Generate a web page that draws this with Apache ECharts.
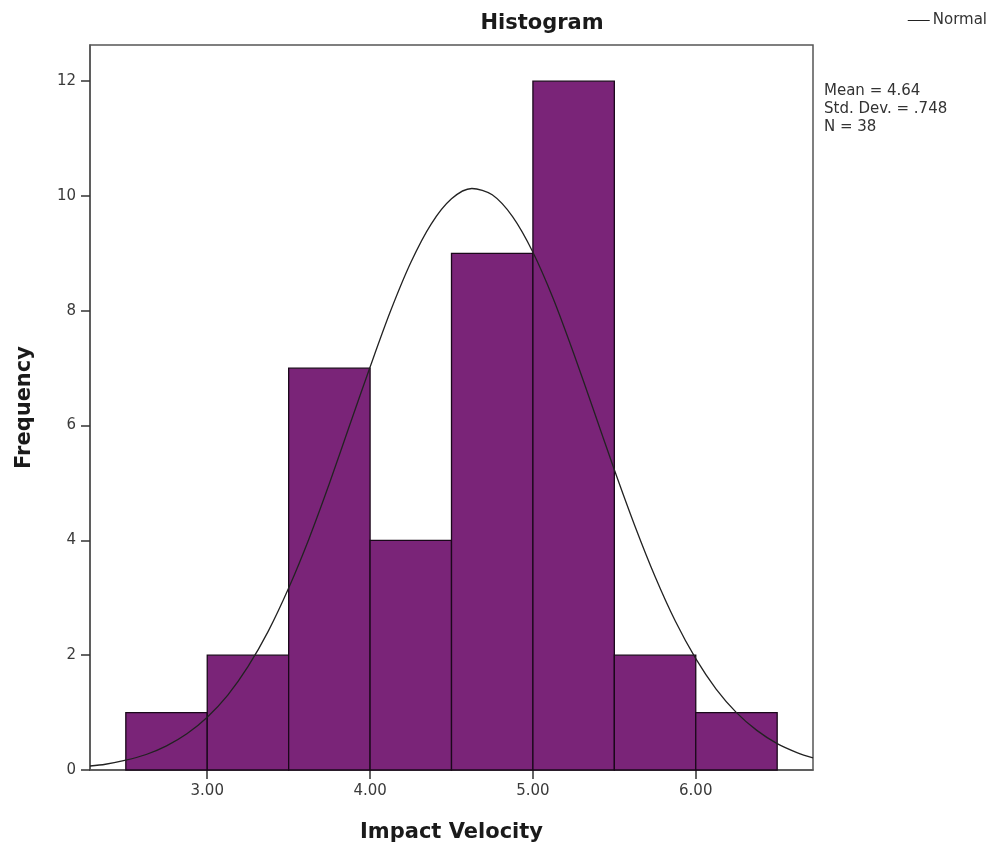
<!DOCTYPE html>
<html>
<head>
<meta charset="utf-8">
<script src="https://cdn.jsdelivr.net/npm/echarts@6/dist/echarts.min.js"></script>
<style>html,body{margin:0;padding:0;background:#fff}#c{width:996px;height:849px}</style>
</head>
<body>
<div id="c"></div>
<script>
// Histogram bins (lower edge, upper edge) and frequencies
const binStarts = [2.5, 3.0, 3.5, 4.0, 4.5, 5.0, 5.5, 6.0];
const binEnds   = [3.0, 3.5, 4.0, 4.5, 5.0, 5.5, 6.0, 6.5];
const frequencies = [1, 2, 7, 4, 9, 12, 2, 1];
// Normal curve points
const curveX = [2.28, 2.375, 2.5, 2.625, 2.75, 2.875, 3.0, 3.125, 3.25, 3.375, 3.5, 3.625, 3.75, 3.875, 4.0, 4.125, 4.25, 4.375, 4.5, 4.625, 4.75, 4.875, 5.0, 5.125, 5.25, 5.375, 5.5, 5.625, 5.75, 5.875, 6.0, 6.125, 6.25, 6.375, 6.5, 6.625, 6.72];
const curveY = [0.07, 0.10, 0.17, 0.27, 0.42, 0.63, 0.92, 1.30, 1.80, 2.42, 3.17, 4.03, 4.99, 6.01, 7.02, 7.99, 8.84, 9.51, 9.95, 10.13, 10.02, 9.64, 9.02, 8.21, 7.26, 6.25, 5.23, 4.26, 3.37, 2.59, 1.94, 1.41, 1.00, 0.69, 0.46, 0.30, 0.21];
const xTicks = [3, 4, 5, 6];
const yTicks = [0, 2, 4, 6, 8, 10, 12];
const statsLines = ['Mean = 4.64', 'Std. Dev. = .748', 'N = 38'];

const FONT = 'DejaVu Sans';
const chart = echarts.init(document.getElementById('c'), null, {renderer: 'canvas'});
const barData = binStarts.map((s, i) => [s, binEnds[i], frequencies[i]]);
const lineData = curveX.map((x, i) => [x, curveY[i]]);

chart.setOption({
  animation: false,
  backgroundColor: '#ffffff',
  textStyle: {fontFamily: FONT},
  title: {
    text: 'Histogram', left: 537, top: 8, textAlign: 'center',
    textStyle: {fontFamily: FONT, fontSize: 21, fontWeight: 'bold', color: '#1a1a1a'}
  },
  grid: {left: 90, right: 183, top: 45, bottom: 79, show: true, borderColor: '#555', borderWidth: 1.5, backgroundColor: 'transparent'},
  xAxis: {
    type: 'value', min: 2.28, max: 6.72,
    name: 'Impact Velocity', nameLocation: 'middle', nameGap: 52,
    nameTextStyle: {fontFamily: FONT, fontSize: 21, fontWeight: 'bold', color: '#1a1a1a'},
    axisLine: {show: true, lineStyle: {color: '#555', width: 1.5}},
    axisTick: {show: true, length: 9, customValues: xTicks, lineStyle: {color: '#333', width: 1.5}},
    axisLabel: {customValues: xTicks, formatter: v => v.toFixed(2), fontFamily: FONT, fontSize: 15, color: '#3a3a3a', margin: 14},
    splitLine: {show: false}
  },
  yAxis: {
    type: 'value', min: 0, max: 12.63,
    name: 'Frequency', nameLocation: 'middle', nameGap: 55, nameRotate: 90,
    nameTextStyle: {fontFamily: FONT, fontSize: 21, fontWeight: 'bold', color: '#1a1a1a'},
    axisLine: {show: true, lineStyle: {color: '#555', width: 1.5}},
    axisTick: {show: true, length: 9, customValues: yTicks, lineStyle: {color: '#333', width: 1.5}},
    axisLabel: {customValues: yTicks, fontFamily: FONT, fontSize: 15, color: '#3a3a3a', margin: 14},
    splitLine: {show: false}
  },
  legend: {
    right: 4, top: 8, itemWidth: 22, itemHeight: 10, itemGap: 4,
    textStyle: {fontFamily: FONT, fontSize: 15, color: '#333', padding: [0, 0, 0, -2]},
    data: [{name: 'Normal', icon: 'path://M0,5 L22,5 L22,6 L0,6 Z'}]
  },
  graphic: [{
    type: 'text', left: 824, top: 82,
    style: {text: statsLines.join('\n'), font: '15px "' + FONT + '"', fill: '#333', lineHeight: 18}
  }],
  series: [
    {
      type: 'custom', name: 'Frequency', data: barData, z: 2,
      encode: {x: [0, 1], y: 2},
      renderItem: function (params, api) {
        const p0 = api.coord([api.value(0), api.value(2)]);
        const p1 = api.coord([api.value(1), 0]);
        return {
          type: 'rect',
          shape: {x: p0[0], y: p0[1], width: p1[0] - p0[0], height: p1[1] - p0[1]},
          style: {fill: '#7a2478', stroke: '#1a081a', lineWidth: 1.3}
        };
      }
    },
    {
      type: 'line', name: 'Normal', data: lineData, smooth: 0.3, showSymbol: false, z: 5,
      lineStyle: {color: '#222', width: 1.3}, itemStyle: {color: '#222'}
    }
  ]
});
</script>
</body>
</html>
